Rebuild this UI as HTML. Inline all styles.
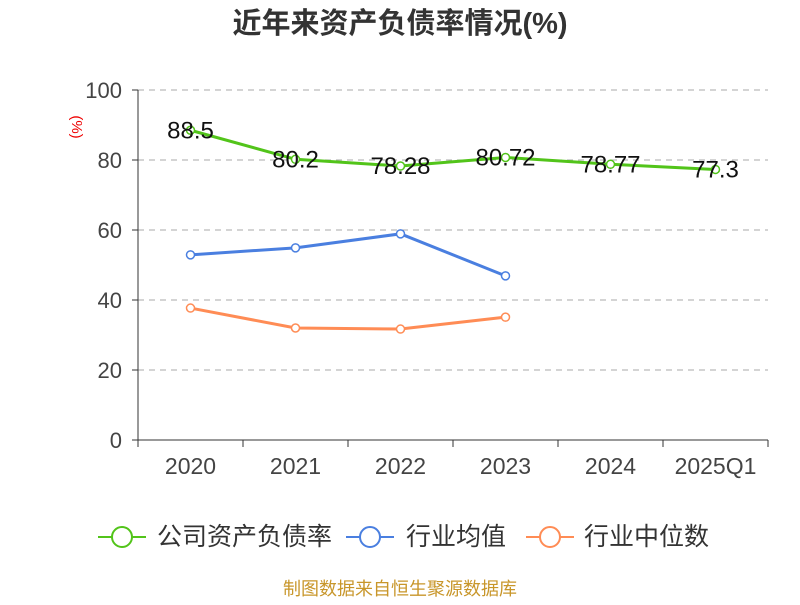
<!DOCTYPE html>
<html><head><meta charset="utf-8"><style>
body{margin:0;background:#fff;font-family:"Liberation Sans","Noto Sans CJK SC",sans-serif}
</style></head><body>
<svg width="800" height="600" xmlns="http://www.w3.org/2000/svg" id="c" style="font-family:'Liberation Sans','Noto Sans CJK SC',sans-serif">
<text x="400" y="33" text-anchor="middle" font-size="29" font-weight="bold" fill="#333">近年来资产负债率情况(%)</text>
<text x="72" y="127" font-size="15" fill="#e00" transform="rotate(90 72 127)" text-anchor="middle">(%)</text>
<g id="grid"></g><g id="axes"></g><g id="series"></g>
<g>
<g><line x1="98" y1="537" x2="146" y2="537" stroke="#52c41a" stroke-width="2"/><circle cx="122" cy="537" r="10" fill="#fff" stroke="#52c41a" stroke-width="2"/><text x="157" y="545" font-size="25" fill="#333">公司资产负债率</text></g>
<g><line x1="346" y1="537" x2="394" y2="537" stroke="#4a7fe0" stroke-width="2"/><circle cx="370" cy="537" r="10" fill="#fff" stroke="#4a7fe0" stroke-width="2"/><text x="406" y="545" font-size="25" fill="#333">行业均值</text></g>
<g><line x1="526" y1="537" x2="574" y2="537" stroke="#ff8c55" stroke-width="2"/><circle cx="550" cy="537" r="10" fill="#fff" stroke="#ff8c55" stroke-width="2"/><text x="584" y="545" font-size="25" fill="#333">行业中位数</text></g>
</g>
<text x="400" y="595" text-anchor="middle" font-size="18" fill="#c8962a">制图数据来自恒生聚源数据库</text>
</svg>
<script>
const categories=["2020","2021","2022","2023","2024","2025Q1"];
const company=[88.5,80.2,78.28,80.72,78.77,77.3];
const companyLabels=["88.5","80.2","78.28","80.72","78.77","77.3"];
const industryAvg=[52.9,54.9,58.9,46.9];
const industryMedian=[37.7,32.0,31.7,35.1];
const yTicks=[0,20,40,60,80,100];
const NS="http://www.w3.org/2000/svg";
const x0=138,x1=768,y0=440,y1=90;
const bw=(x1-x0)/categories.length;
const xs=i=>x0+bw*(i+0.5);
const ys=v=>y0-(v/100)*(y0-y1);
function mk(t,a,p){const e=document.createElementNS(NS,t);for(const k in a)e.setAttribute(k,a[k]);p.appendChild(e);return e;}
const grid=document.getElementById('grid'),axes=document.getElementById('axes'),ser=document.getElementById('series');
yTicks.forEach(v=>{
 if(v>0){const g=mk('line',{x1:x0,x2:x1,y1:ys(v),y2:ys(v),stroke:'#aaa','stroke-dasharray':'6,5'},grid);
 
 }
 const t=mk('text',{x:x0-16,y:ys(v)+8,'text-anchor':'end','font-size':22,fill:'#444'},axes);t.textContent=v;
 
 
 mk('line',{x1:x0-6,x2:x0,y1:ys(v),y2:ys(v),stroke:'#333'},axes);
});
const ya=mk('line',{x1:x0,x2:x0,y1:y1,y2:y0,stroke:'#333'},axes);


const xa=mk('line',{x1:x0,x2:x1,y1:y0,y2:y0,stroke:'#333'},axes);


for(let i=0;i<=categories.length;i++)mk('line',{x1:x0+bw*i,x2:x0+bw*i,y1:y0,y2:y0+7,stroke:'#333'},axes);
categories.forEach((c,i)=>{const t=mk('text',{x:xs(i),y:474,'text-anchor':'middle','font-size':23,fill:'#444'},axes);t.textContent=c;
 
 });
function series(vals,color,name){
 const p=mk('polyline',{points:vals.map((v,i)=>xs(i)+','+ys(v)).join(' '),fill:'none',stroke:color,'stroke-width':3},ser);
 
 
 vals.forEach((v,i)=>{const c=mk('circle',{cx:xs(i),cy:ys(v),r:4,fill:'#fff',stroke:color,'stroke-width':1.5},ser);
 
 });
}
series(industryMedian,'#ff8c55','industry-median');
series(industryAvg,'#4a7fe0','industry-avg');
series(company,'#52c41a','company');
company.forEach((v,i)=>{const t=mk('text',{x:xs(i),y:ys(v)+8,'text-anchor':'middle','font-size':24,fill:'#111'},ser);t.textContent=companyLabels[i];
 
 });
</script>
</body></html>
